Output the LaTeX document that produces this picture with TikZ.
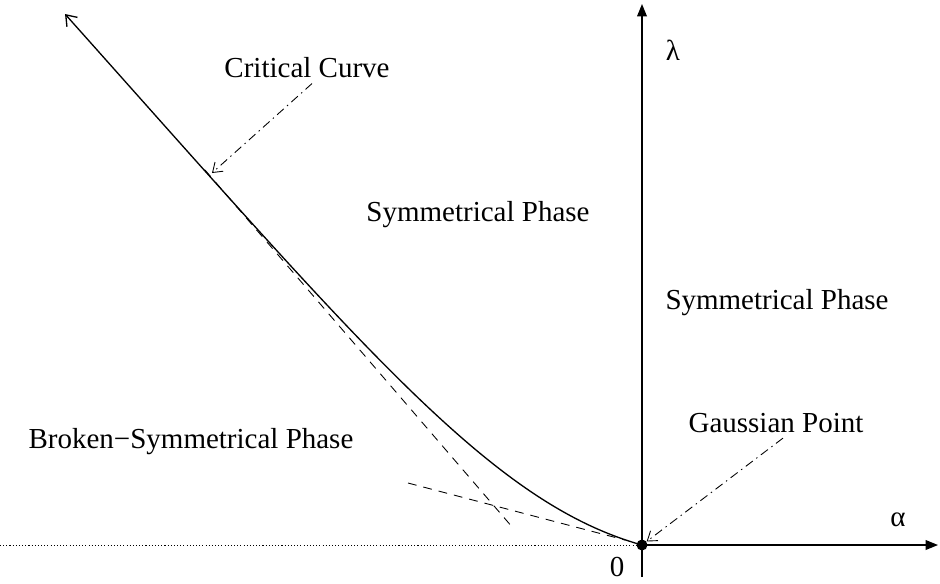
\documentclass[tikz,border=0pt]{standalone}
\usepackage{fontspec}
\setmainfont{Liberation Serif}
\usetikzlibrary{arrows.meta,calc}

\begin{document}
\begin{tikzpicture}[
  x=0.02cm, y=-0.02cm,
  font=\fontsize{16.5}{20}\selectfont,
  axis/.style={line width=0.8pt, -{Triangle[length=7pt, width=5.5pt]}},
  curve/.style={line width=0.75pt, -{Straight Barb[length=5.5pt, width=8pt]}},
  asym/.style={line width=0.5pt, dash pattern=on 5pt off 4pt},
  pointer/.style={line width=0.5pt, dash pattern=on 5pt off 2.5pt on 0.8pt off 2.5pt,
                  -{Straight Barb[length=5pt, width=7pt]}},
  lbl/.style={inner sep=0pt, anchor=center}
]
\useasboundingbox (0,0) rectangle (940,583);

% --- origin and axes ---
\node[circle, fill, inner sep=0pt, minimum size=11*0.02cm] (gpt) at (642,545) {};
\coordinate (xend) at (938,545);
\coordinate (yend) at (642,4);
\coordinate (ybot) at (642,577);
\coordinate (xleft) at (0,545);

\draw[axis] (gpt.center) -- (xend);
\draw[axis] (ybot) -- (yend);
\draw[line width=0.5pt, dash pattern=on 0.6pt off 1.2pt] (xleft) -- (gpt.center);

\node[lbl] (lam) at (673,50) {λ};
\node[lbl] (alp) at (898,520) {α};
\node[lbl] (zero) at (617,567) {0};

% --- critical curve and asymptotes ---
\coordinate (ctip) at (65,14);
\draw[curve] (gpt.center) .. controls (492,503) and (365,350) .. (ctip);
\draw[asym] (205,170) -- (513,528);
\draw[asym] (408,483) -- (625,540);

% --- labels ---
\node[lbl] (critlbl) at (307,68) {Critical Curve};
\node[lbl] (symup) at (478,215) {Symmetrical Phase};
\node[lbl] (symright) at (777,303) {Symmetrical Phase};
\node[lbl] (gausslbl) at (776,423) {Gaussian Point};
\node[lbl] (broken) at (191,442) {Broken\textminus Symmetrical Phase};

% --- pointers ---
\coordinate (oncurve) at (212,173);
\draw[pointer] ([xshift=5*0.02cm, yshift=-5*0.02cm]critlbl.south) -- (oncurve);
\draw[pointer] ([xshift=7*0.02cm, yshift=-5*0.02cm]gausslbl.south) -- (gpt);

\end{tikzpicture}
\end{document}
